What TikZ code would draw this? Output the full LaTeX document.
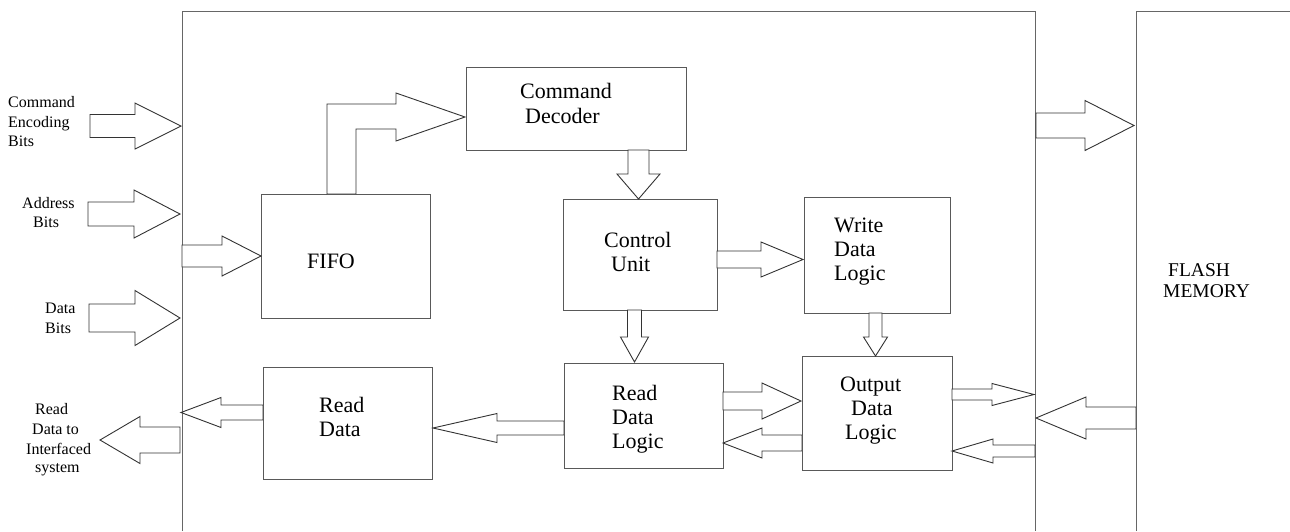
\documentclass[tikz,border=0pt]{standalone}
\usepackage{fontspec}
\setmainfont{Liberation Serif}
\usetikzlibrary{fit}
\newcommand{\hblk}[6]{\draw[blk] (#1,#4-#5) -- (#3,#4-#5) -- (#3,#4-#6) -- (#2,#4) -- (#3,#4+#6) -- (#3,#4+#5) -- (#1,#4+#5) -- cycle;}
\newcommand{\vblk}[6]{\draw[blk] (#4-#5,#1) -- (#4-#5,#3) -- (#4-#6,#3) -- (#4,#2) -- (#4+#6,#3) -- (#4+#5,#3) -- (#4+#5,#1) -- cycle;}
\tikzset{
  frame/.style={draw=black!60, line width=1pt},
  box/.style={draw=black!65, line width=1pt, inner sep=0pt, rectangle},
  blk/.style={draw=black!80, line width=0.9pt, line join=miter, fill=white},
  big/.style={inner sep=0pt, anchor=base west, font=\fontsize{22}{24}\selectfont},
  mid/.style={inner sep=0pt, anchor=base west, font=\fontsize{19.5}{21}\selectfont},
  small/.style={inner sep=0pt, anchor=base west, font=\fontsize{16}{20}\selectfont},
}
\begin{document}
\begin{tikzpicture}[x=1pt, y=-1pt]
\useasboundingbox (0,0) rectangle (1290,531);
% outer frames
\draw[frame] (182,531) -- (182,11) -- (1035,11) -- (1035,531);
\draw[frame] (1136,531) -- (1136,11) -- (1290,11);
% boxes
\node[box, fit={(466,67) (686,150)}] (cmd) {};
\node[box, fit={(261,194) (430,318)}] (fifo) {};
\node[box, fit={(563,199) (717,310)}] (ctrl) {};
\node[box, fit={(804,197) (950,313)}] (wdl) {};
\node[box, fit={(263,367) (432,479)}] (rd) {};
\node[box, fit={(564,363) (723,468)}] (rdl) {};
\node[box, fit={(802,356) (952,470)}] (odl) {};
% texts
\node[big] (t1a) at (520,98) {Command};
\node[big] (t1b) at (525,123) {Decoder};
\node[big] (t2) at (307,268) {FIFO};
\node[big] (t3a) at (604,247) {Control};
\node[big] (t3b) at (611,271) {Unit};
\node[big] (t4a) at (834,232) {Write};
\node[big] (t4b) at (834,256) {Data};
\node[big] (t4c) at (834,280) {Logic};
\node[big] (t5a) at (319,412) {Read};
\node[big] (t5b) at (319,436) {Data};
\node[big] (t6a) at (612,400) {Read};
\node[big] (t6b) at (612,424) {Data};
\node[big] (t6c) at (612,448) {Logic};
\node[big] (t7a) at (840,391) {Output};
\node[big] (t7b) at (851,415) {Data};
\node[big] (t7c) at (845,439) {Logic};
\node[mid] (t8a) at (1168,276) {FLASH};
\node[mid] (t8b) at (1163,297) {MEMORY};
\node[small] (l1a) at (8,107) {Command};
\node[small] (l1b) at (8,127) {Encoding};
\node[small] (l1c) at (8,146) {Bits};
\node[small] (l2a) at (22,208) {Address};
\node[small] (l2b) at (33,227) {Bits};
\node[small] (l3a) at (45,313) {Data};
\node[small] (l3b) at (45,333) {Bits};
\node[small] (l4a) at (35,414) {Read};
\node[small] (l4b) at (32,434) {Data to};
\node[small] (l4c) at (26,454) {Interfaced};
\node[small] (l4d) at (35,472) {system};
% block arrows: tail, tip, head base, centre, shaft half, head half
\hblk{90}{181}{135}{126}{11.5}{23}
\hblk{88}{180}{134}{214}{12}{24}
\hblk{182}{261}{222}{256}{11}{20}
\hblk{89}{180}{135}{318}{14}{27.5}
\hblk{263}{181}{221}{412.5}{7.5}{15}
\hblk{180}{100}{140}{440}{13}{23.5}
\hblk{717}{803}{761}{259.5}{8.5}{17.5}
\hblk{564}{433}{497}{428}{7}{14.5}
\hblk{723}{801}{762}{401}{9}{18}
\hblk{802}{723}{762}{443}{8}{15}
\hblk{952}{1034}{992}{394.5}{5.5}{11}
\hblk{1035}{952}{993}{451}{6}{12}
\hblk{1136}{1036}{1086}{418}{11}{21}
\hblk{1036}{1134}{1085}{125.5}{12.5}{25}
\vblk{150}{199}{174}{638.5}{10.5}{21.5}
\vblk{310}{362}{337}{634.5}{7}{14}
\vblk{313}{356}{337}{875.5}{6.5}{12}
% bent arrow FIFO -> Command Decoder
\draw[blk] (327,194) -- (327,104) -- (396,104) -- (396,93) -- (465,117) -- (396,141) -- (396,129) -- (356,129) -- (356,194) -- cycle;
\end{tikzpicture}
\end{document}
